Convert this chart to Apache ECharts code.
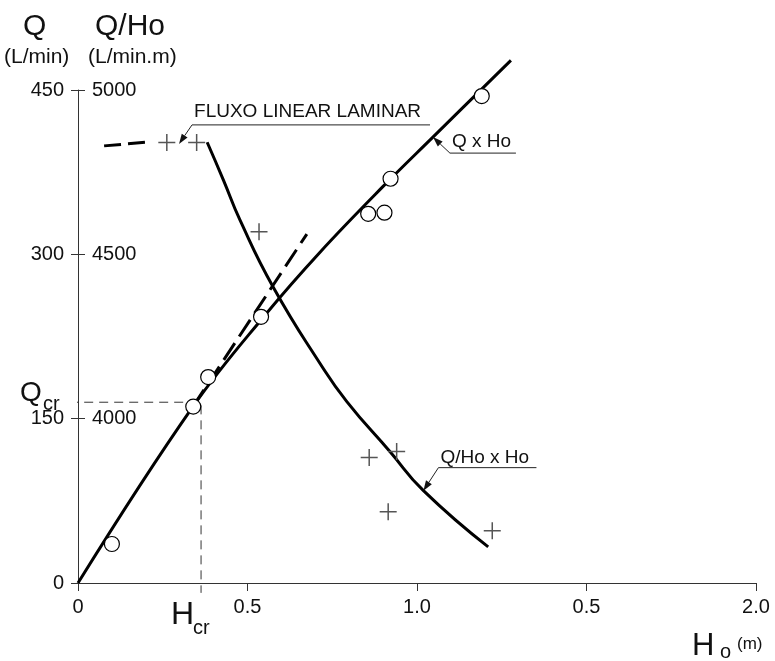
<!DOCTYPE html>
<html>
<head>
    <meta charset="UTF-8">
    <title>Q x Ho</title>
    <script src="https://cdn.jsdelivr.net/npm/echarts@6/dist/echarts.min.js"></script>
</head>
<body style="margin:0">
<div id="chart" style="width:775px; height:661px;"></div>
<script>
    // rotulos dos eixos (o 1.5 aparece como 0.5 no original)
    var hoTicks = ['0', '0.5', '1.0', '0.5', '2.0'];
    var qhoTicks = {3500: '', 4000: '4000', 4500: '4500', 5000: '5000'};

    // Q x Ho - pontos medidos (circulos) e curva
    var hoCirc = [0.10, 0.34, 0.384, 0.54, 0.856, 0.904, 0.922, 1.191];
    var qCirc = [35.6, 161, 188, 243, 337, 338, 369, 444.5];
    var hoCurveQ = [0, 0.339, 0.557, 0.714, 0.90, 1.047, 1.277];
    var qCurve = [0, 161, 246.5, 302, 362, 407, 477];
    // prolongamento do trecho laminar
    var hoLam = [0.339, 0.675];
    var qLam = [161, 318.5];

    // Q/Ho x Ho - pontos medidos (cruzes) e curva
    var hoCross = [0.262, 0.35, 0.534, 0.859, 0.94, 0.915, 1.222];
    var qhoCross = [4840, 4840, 4569, 3882, 3900, 3717, 3659];
    var hoCurveQH = [0.381, 0.429, 0.478, 0.576, 0.714, 0.793, 0.920, 1.019, 1.210];
    var qhoCurve = [4841, 4726, 4604, 4400, 4168, 4052, 3900, 3781, 3610];
    var hoLamTop = [0.077, 0.212];
    var qhoLamTop = [4830, 4842];

    // ponto critico
    var Hcr = 0.363, Qcr = 165;

    var FONT = 'Liberation Sans, Arial, sans-serif';

    function zip(xs, ys) {
        return xs.map(function (x, i) { return [x, ys[i]]; });
    }

    var chart = echarts.init(document.getElementById('chart'), null, {renderer: 'canvas'});
    var black = '#000';
    var axisCol = '#333';

    var option = {
        animation: false,
        grid: {left: 78, right: 19, top: 90, bottom: 78},
        xAxis: {
            type: 'value', min: 0, max: 2, interval: 0.5,
            axisLine: {lineStyle: {color: axisCol, width: 1}},
            axisTick: {length: 8, lineStyle: {color: axisCol}},
            axisLabel: {
                margin: 14, fontSize: 20, color: '#111', fontFamily: FONT,
                formatter: function (v) { return hoTicks[Math.round(v / 0.5)]; }
            },
            splitLine: {show: false}
        },
        yAxis: [{
            type: 'value', min: 0, max: 450, interval: 150,
            axisLine: {show: true, lineStyle: {color: axisCol, width: 1}},
            axisTick: {show: true, length: 7, lineStyle: {color: axisCol}},
            axisLabel: {margin: 14, fontSize: 20, color: '#111', fontFamily: FONT},
            splitLine: {show: false}
        }, {
            type: 'value', min: 3500, max: 5000, interval: 500, position: 'left',
            axisLine: {show: false},
            axisTick: {show: true, inside: true, length: 7, lineStyle: {color: axisCol}},
            axisLabel: {
                inside: true, margin: 14, fontSize: 20, color: '#111', fontFamily: FONT,
                formatter: function (v) { return qhoTicks[v]; }
            },
            splitLine: {show: false}
        }],
        series: [
            {
                type: 'line', data: zip(hoCurveQ, qCurve), smooth: 0.4, symbol: 'none', clip: false,
                lineStyle: {color: black, width: 3}, z: 3
            },
            {
                type: 'line', data: zip(hoLam, qLam), symbol: 'none', clip: false,
                lineStyle: {color: black, width: 3, type: [20, 8]}, z: 3
            },
            {
                type: 'line', yAxisIndex: 1, data: zip(hoCurveQH, qhoCurve), smooth: 0.5, symbol: 'none',
                lineStyle: {color: black, width: 3}, z: 3
            },
            {
                type: 'line', yAxisIndex: 1, data: zip(hoLamTop, qhoLamTop), symbol: 'none',
                lineStyle: {color: black, width: 3, type: [17, 7]}, z: 3
            },
            {
                // linhas de Hcr e Qcr
                type: 'line', data: [[-0.026, Qcr], [Hcr, Qcr], [Hcr, -9]], symbol: 'none', clip: false,
                lineStyle: {color: axisCol, width: 1, type: [9, 6]}, z: 2
            },
            {
                type: 'scatter', data: zip(hoCirc, qCirc), symbol: 'circle', symbolSize: 15,
                itemStyle: {color: '#fff', borderColor: black, borderWidth: 1.2, opacity: 1}, z: 5
            },
            {
                type: 'scatter', yAxisIndex: 1, data: zip(hoCross, qhoCross),
                symbol: 'path://M8,0V16M0,8H16', symbolSize: 17,
                itemStyle: {color: 'transparent', borderColor: '#555', borderWidth: 1.5, opacity: 1}, z: 5
            }
        ]
    };
    chart.setOption(option);

    // anotacoes
    function px(x, y, yi) {
        return chart.convertToPixel({xAxisIndex: 0, yAxisIndex: yi || 0}, [x, y]);
    }
    function txt(x, y, s, size) {
        return {
            type: 'text', x: x, y: y, z: 10,
            style: {text: s, fontSize: size, fontFamily: FONT, fill: '#111', verticalAlign: 'middle', align: 'left'}
        };
    }

    var g = [];
    // titulos
    g.push(txt(23, 27, 'Q', 30));
    g.push(txt(95, 27, 'Q/Ho', 30));
    g.push(txt(4, 57, '(L/min)', 21));
    g.push(txt(88, 57, '(L/min.m)', 21));
    g.push(txt(692, 646, 'H', 31));
    g.push(txt(720, 652, 'o', 20));
    g.push(txt(737, 644, '(m)', 17));

    // Qcr e Hcr
    var pq = px(0, Qcr);
    g.push(txt(pq[0] - 58, pq[1] - 9, 'Q', 28));
    g.push(txt(pq[0] - 35, pq[1] + 2, 'cr', 20));
    var ph = px(Hcr, 0);
    g.push(txt(ph[0] - 30, ph[1] + 32, 'H', 32));
    g.push(txt(ph[0] - 8, ph[1] + 45, 'cr', 20));

    // chamadas com seta
    var callouts = [
        {text: 'FLUXO LINEAR LAMINAR', tip: [0.298, 4836], yi: 1, dx: 13, dy: -19, len: 238, size: 19, ty: -13},
        {text: 'Q x Ho', tip: [1.047, 407], yi: 0, dx: 17, dy: 16, len: 66, size: 19, ty: -11.5},
        {text: 'Q/Ho x Ho', tip: [1.019, 3781], yi: 1, dx: 15, dy: -23, len: 98, size: 19, ty: -10}
    ];
    callouts.forEach(function (c) {
        var t = px(c.tip[0], c.tip[1], c.yi);
        var e = [t[0] + c.dx, t[1] + c.dy];
        var L = Math.sqrt(c.dx * c.dx + c.dy * c.dy);
        var ux = c.dx / L, uy = c.dy / L;
        var base = [t[0] + ux * 10, t[1] + uy * 10];
        g.push({
            type: 'polyline', z: 10,
            shape: {points: [base, e, [e[0] + c.len, e[1]]]},
            style: {stroke: '#222', lineWidth: 1, fill: null}
        });
        g.push({
            type: 'polygon', z: 10,
            shape: {points: [t, [base[0] - uy * 3.5, base[1] + ux * 3.5], [base[0] + uy * 3.5, base[1] - ux * 3.5]]},
            style: {fill: '#111'}
        });
        g.push(txt(e[0] + 2, e[1] + c.ty, c.text, c.size));
    });

    chart.setOption({graphic: g});
</script>
</body>
</html>
